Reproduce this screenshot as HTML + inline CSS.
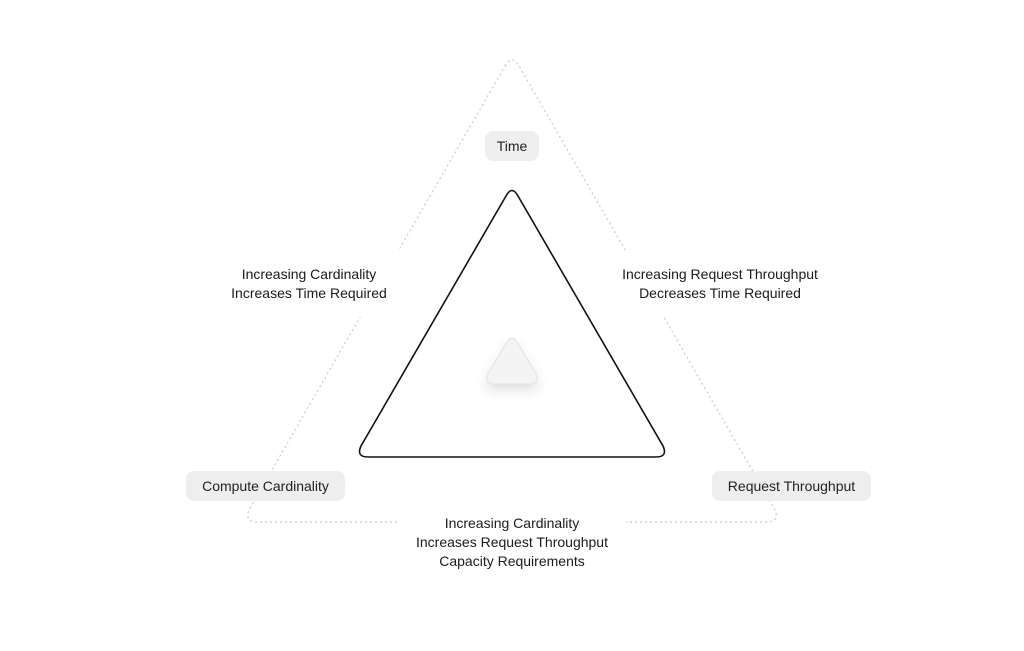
<!DOCTYPE html>
<html><head><style>
html,body{margin:0;padding:0;background:#fff;}
body{width:1024px;height:651px;position:relative;overflow:hidden;font-family:"Liberation Sans",sans-serif;}
.pill{position:absolute;background:#eeeeee;border-radius:8px;font-size:14px;color:#222;text-align:center;line-height:30px;height:30px;}
.lbl{position:absolute;font-size:14px;color:#1a1a1a;text-align:center;line-height:19px;background:#fff;}
</style></head><body>
<svg width="1024" height="651" style="position:absolute;left:0;top:0">
<defs>
<filter id="sh" x="-50%" y="-50%" width="200%" height="200%"><feDropShadow dx="0" dy="6" stdDeviation="6" flood-color="#000" flood-opacity="0.12"/></filter>
</defs>
<path d="M505,66 Q512,54 519,66 L774,508 Q781,522 766,522 L258,522 Q243,522 250,508 Z" fill="none" stroke="#c8c8c8" stroke-width="1.2" stroke-dasharray="2,3"/>
<path d="M506,196 Q512,185 518,196 L663,446 Q668,457 656,457 L368,457 Q356,457 361,446 Z" fill="none" stroke="#111" stroke-width="1.6"/>
<path d="M507,342 Q512,334 517,342 L536,374 Q540,384 530,384 L494,384 Q484,384 488,374 Z" fill="#f4f4f4" stroke="#e2e2e2" stroke-width="1" filter="url(#sh)"/>
</svg>
<div class="pill" style="left:485px;top:131px;width:54px;">Time</div>
<div class="pill" style="left:186px;top:471px;width:159px;">Compute Cardinality</div>
<div class="pill" style="left:712px;top:471px;width:159px;">Request Throughput</div>
<div class="lbl" style="left:215px;top:250px;width:188px;padding:15px 0 14px;">Increasing Cardinality<br>Increases Time Required</div>
<div class="lbl" style="left:605px;top:250px;width:230px;padding:15px 0 14px;">Increasing Request Throughput<br>Decreases Time Required</div>
<div class="lbl" style="left:398px;top:514px;width:228px;">Increasing Cardinality<br>Increases Request Throughput<br>Capacity Requirements</div>
</body></html>
